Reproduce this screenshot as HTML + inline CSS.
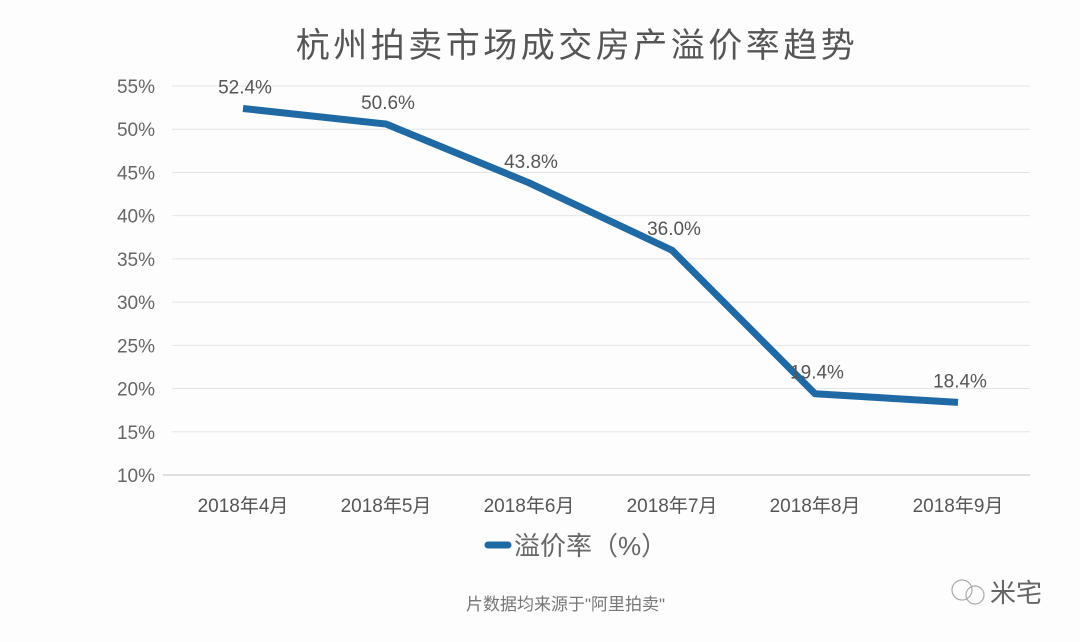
<!DOCTYPE html>
<html><head><meta charset="utf-8">
<style>
html,body{margin:0;padding:0;background:#fdfdfe;}
body{width:1080px;height:637px;overflow:hidden;position:relative;font-family:"Liberation Sans","Noto Sans CJK SC",sans-serif;}
svg text{font-family:"Liberation Sans","Noto Sans CJK SC",sans-serif;}
</style></head>
<body>
<svg id="chart" width="1080" height="637" xmlns="http://www.w3.org/2000/svg">
<text x="577" y="57" text-anchor="middle" font-size="34" fill="#555" letter-spacing="3.5" font-family="Noto Serif CJK SC, serif">杭州拍卖市场成交房产溢价率趋势</text>
<g id="grid"></g><g id="yticks"></g><g id="xticks"></g><g id="series"></g><g id="labels"></g>
<g>
<line x1="488" y1="545" x2="508" y2="545" stroke="#1f6aa5" stroke-width="7" stroke-linecap="round"/>
<text x="514" y="555" font-size="26" fill="#666">溢价率（%）</text>
</g>
<text x="466" y="610" font-size="17" fill="#777">片数据均来源于"阿里拍卖"</text>
<g>
<circle cx="962" cy="590" r="10" fill="none" stroke="#aaa" stroke-width="1.2"/>
<circle cx="975" cy="595" r="9" fill="none" stroke="#aaa" stroke-width="1.2"/>
<text x="990" y="602" font-size="26" fill="#666">米宅</text>
</g>
</svg>
<script>
const categories=["2018年4月","2018年5月","2018年6月","2018年7月","2018年8月","2018年9月"];
const values=[52.4,50.6,43.8,36.0,19.4,18.4];
const valueLabels=["52.4%","50.6%","43.8%","36.0%","19.4%","18.4%"];
const yTicks=[10,15,20,25,30,35,40,45,50,55];
const NS="http://www.w3.org/2000/svg";
const y0=475,yTop=86,vMin=10,vMax=55,xLeft=172,xRight=1030;
function yScale(v){return y0-(v-vMin)/(vMax-vMin)*(y0-yTop);}
function xScale(i){return 243+i*143;}
function mk(tag,attrs,parent){const e=document.createElementNS(NS,tag);for(const k in attrs)e.setAttribute(k,attrs[k]);document.getElementById(parent).appendChild(e);return e;}
yTicks.forEach(t=>{
 const l=mk('line',{x1:t===10?163:xLeft,x2:xRight,y1:yScale(t),y2:yScale(t),stroke:t===10?'#d4d4d8':'#e4e4e8','stroke-width':t===10?1.5:1},'grid');
 
 
 const tx=mk('text',{x:155,y:yScale(t)+7,'text-anchor':'end','font-size':19,fill:'#666'},'yticks');
 tx.textContent=t+'%';
 
 
});
categories.forEach((c,i)=>{
 const tx=mk('text',{x:xScale(i),y:512,'text-anchor':'middle','font-size':19,fill:'#555'},'xticks');
 tx.textContent=c;
 
 
});
const pts=values.map((v,i)=>xScale(i)+','+yScale(v)).join(' ');
const pl=mk('polyline',{points:pts,fill:'none',stroke:'#1f6aa5','stroke-width':7,'stroke-linejoin':'round','stroke-linecap':'butt'},'series');


values.forEach((v,i)=>{
 const tx=mk('text',{x:xScale(i)+2,y:yScale(v)-15,'text-anchor':'middle','font-size':19,fill:'#555'},'labels');
 tx.textContent=valueLabels[i];
 
 
});
</script>
</body></html>
